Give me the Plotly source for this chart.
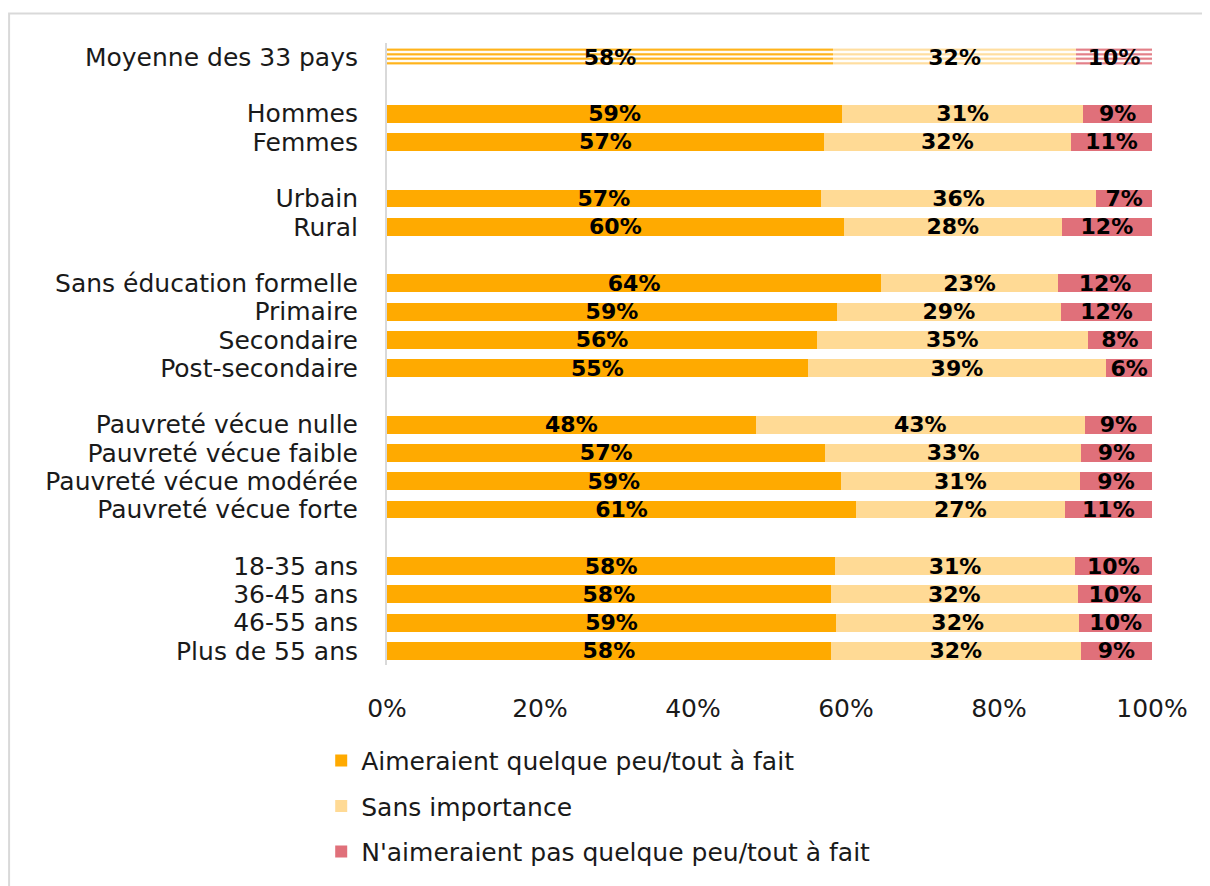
import plotly.graph_objects as go

# ---- data ----
categories = ["Moyenne des 33 pays",
              "Hommes", "Femmes",
              "Urbain", "Rural",
              "Sans éducation formelle", "Primaire", "Secondaire", "Post-secondaire",
              "Pauvreté vécue nulle", "Pauvreté vécue faible", "Pauvreté vécue modérée", "Pauvreté vécue forte",
              "18-35 ans", "36-45 ans", "46-55 ans", "Plus de 55 ans"]
group = [0, 1, 1, 2, 2, 3, 3, 3, 3, 4, 4, 4, 4, 5, 5, 5, 5]

aimeraient = [58.3, 59.5, 57.1, 56.7, 59.7, 64.6, 58.8, 56.2, 55.0, 48.2, 57.3, 59.3, 61.3, 58.6, 58.0, 58.7, 58.0]
sans_imp = [31.8, 31.5, 32.3, 36.0, 28.5, 23.1, 29.3, 35.4, 39.0, 43.0, 33.4, 31.3, 27.3, 31.3, 32.3, 31.8, 32.7]
naimeraient = [9.9, 9.0, 10.6, 7.3, 11.8, 12.3, 11.9, 8.4, 6.0, 8.8, 9.3, 9.4, 11.4, 10.1, 9.7, 9.5, 9.3]

lab_aim = [58, 59, 57, 57, 60, 64, 59, 56, 55, 48, 57, 59, 61, 58, 58, 59, 58]
lab_sans = [32, 31, 32, 36, 28, 23, 29, 35, 39, 43, 33, 31, 27, 31, 32, 32, 32]
lab_naim = [10, 9, 11, 7, 12, 12, 12, 8, 6, 9, 9, 9, 11, 10, 10, 10, 9]

series_names = ["Aimeraient quelque peu/tout à fait", "Sans importance",
                "N'aimeraient pas quelque peu/tout à fait"]
colors = ["#FFAA00", "#FFDA95", "#E0707A"]
x_ticks = [0, 20, 40, 60, 80, 100]

# ---- layout helpers ----
pos = [i + g for i, g in enumerate(group)]
FONT = "DejaVu Sans"

fig = go.Figure()
series_vals = [aimeraient, sans_imp, naimeraient]
series_labs = [lab_aim, lab_sans, lab_naim]

for k in range(3):
    vals = series_vals[k]
    labs = series_labs[k]
    fig.add_trace(go.Bar(
        y=pos[1:], x=vals[1:], orientation="h", name=series_names[k],
        marker=dict(color=colors[k], line=dict(width=0)),
        text=[f"{v}%" for v in labs[1:]], textposition="inside",
        insidetextanchor="middle", constraintext="none", cliponaxis=False,
        textfont=dict(family=FONT, size=22, color="black", weight="bold"),
        legendgroup=f"g{k}", width=0.63, hoverinfo="skip"))
for k in range(3):
    vals = series_vals[k]
    labs = series_labs[k]
    fig.add_trace(go.Bar(
        y=pos[:1], x=vals[:1], orientation="h", name=series_names[k],
        marker=dict(color=colors[k], line=dict(width=0),
                    pattern=dict(shape="-", size=4.5, solidity=0.45,
                                 fgcolor=colors[k], bgcolor="white",
                                 fillmode="replace")),
        text=[f"{v}%" for v in labs[:1]], textposition="inside",
        insidetextanchor="middle", constraintext="none", cliponaxis=False,
        textfont=dict(family=FONT, size=22, color="black", weight="bold"),
        legendgroup=f"g{k}", showlegend=False, width=0.63, hoverinfo="skip"))

fig.update_layout(
    barmode="stack",
    width=1203, height=879,
    margin=dict(l=379, r=59, t=35, b=213),
    paper_bgcolor="white", plot_bgcolor="white",
    font=dict(family=FONT, size=25, color="#1a1a1a"),
    showlegend=True,
    legend=dict(orientation="v", x=-0.086, xanchor="left", y=-0.117, yanchor="top",
                traceorder="grouped", tracegroupgap=10,
                font=dict(family=FONT, size=25, color="#1a1a1a")),
    xaxis=dict(range=[0, 100], tickvals=x_ticks, ticktext=[f"{t}%" for t in x_ticks],
               showgrid=False, zeroline=False, showline=False, ticks="",
               ticklabelstandoff=26, fixedrange=True),
    yaxis=dict(range=[max(pos) + 0.5, -0.5], tickvals=pos, ticktext=categories,
               showgrid=False, zeroline=False, showline=True, linecolor="#D9D9D9",
               linewidth=2, ticks="", ticklabelstandoff=22, fixedrange=True),
    shapes=[dict(type="rect", xref="paper", yref="paper",
                 x0=-0.494, x1=1.2, y0=-0.4, y1=1.0475,
                 line=dict(color="#D9D9D9", width=2), fillcolor="rgba(0,0,0,0)",
                 layer="below")],
)

fig.write_html("out.html")
